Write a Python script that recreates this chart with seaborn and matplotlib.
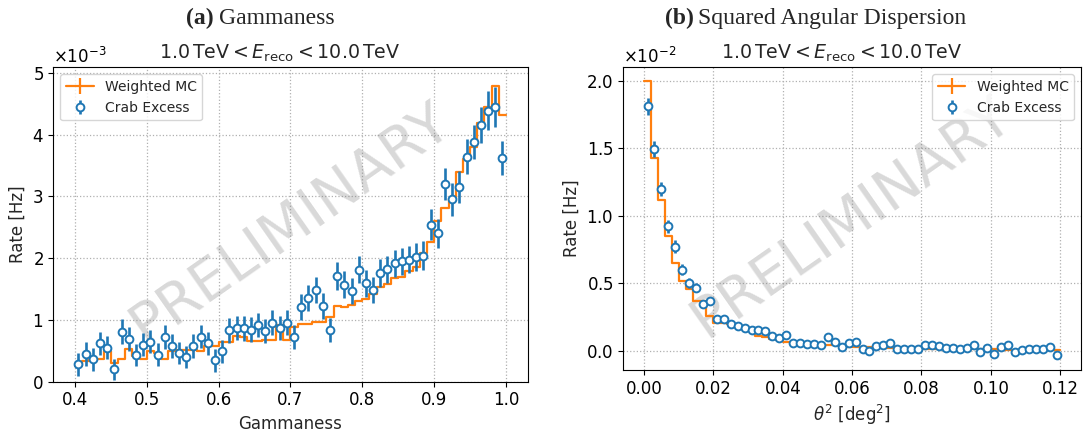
import numpy as np
import matplotlib
matplotlib.use("Agg")
import matplotlib.pyplot as plt
from matplotlib.lines import Line2D
from matplotlib.ticker import ScalarFormatter
import seaborn as sns

# --- dados ---
# (a) gammaness: 60 bins de 0.4 a 1.0, taxas em unidades de 1e-3 Hz
gh_edges = np.round(np.arange(0.40, 1.0001, 0.01), 3)
gh_mc = [0.25, 0.33, 0.35, 0.37, 0.50, 0.31, 0.37, 0.53, 0.42, 0.36,
         0.49, 0.46, 0.37, 0.50, 0.51, 0.52, 0.51, 0.50, 0.58, 0.57,
         0.64, 0.65, 0.74, 0.72, 0.66, 0.66, 0.67, 0.68, 0.91, 0.67,
         0.89, 0.93, 0.93, 0.97, 0.97, 1.05, 1.22, 1.21, 1.24, 1.30,
         1.34, 1.42, 1.53, 1.58, 1.68, 1.70, 1.80, 1.85, 2.09, 2.26,
         2.60, 2.82, 2.95, 3.40, 3.60, 3.80, 4.19, 4.44, 4.79, 4.32]
gh_crab = [0.28, 0.45, 0.36, 0.62, 0.55, 0.20, 0.81, 0.69, 0.43, 0.60,
           0.65, 0.44, 0.72, 0.58, 0.46, 0.40, 0.575, 0.73, 0.62, 0.345,
           0.49, 0.83, 0.87, 0.865, 0.84, 0.92, 0.82, 0.955, 0.87, 0.957,
           0.726, 1.21, 1.35, 1.49, 1.22, 0.84, 1.71, 1.57, 1.465, 1.81,
           1.595, 1.49, 1.76, 1.82, 1.92, 1.95, 1.975, 2.02, 2.04, 2.54,
           2.40, 3.195, 2.95, 3.155, 3.645, 3.88, 4.155, 4.39, 4.45, 3.62]
gh_crab_err = [0.18, 0.19, 0.18, 0.19, 0.19, 0.17, 0.20, 0.19, 0.18, 0.19,
               0.19, 0.18, 0.19, 0.19, 0.18, 0.18, 0.19, 0.19, 0.19, 0.18,
               0.18, 0.20, 0.20, 0.20, 0.20, 0.20, 0.19, 0.20, 0.20, 0.20,
               0.19, 0.21, 0.21, 0.21, 0.21, 0.19, 0.22, 0.22, 0.21, 0.22,
               0.22, 0.21, 0.22, 0.22, 0.22, 0.22, 0.22, 0.23, 0.23, 0.25,
               0.24, 0.26, 0.26, 0.26, 0.28, 0.28, 0.29, 0.31, 0.32, 0.28]

# (b) theta^2: 60 bins de 0 a 0.12 deg^2, taxas em unidades de 1e-2 Hz
th_edges = np.round(np.arange(0.0, 0.12001, 0.002), 4)
th_mc = [2.00, 1.43, 1.12, 0.85, 0.653, 0.52, 0.455, 0.365, 0.365, 0.257,
         0.208, 0.203, 0.198, 0.183, 0.166, 0.154, 0.109, 0.099, 0.084, 0.079,
         0.066, 0.065, 0.056, 0.053, 0.050, 0.048, 0.042, 0.040, 0.036, 0.030,
         0.026, 0.025, 0.024, 0.023, 0.022, 0.020, 0.018, 0.017, 0.016, 0.016,
         0.015, 0.015, 0.014, 0.013, 0.013, 0.012, 0.011, 0.010, 0.010, 0.009,
         0.009, 0.008, 0.008, 0.008, 0.007, 0.007, 0.006, 0.006, 0.006, 0.005]
th_crab = [1.81, 1.495, 1.198, 0.921, 0.772, 0.60, 0.505, 0.468, 0.346, 0.368,
           0.232, 0.235, 0.195, 0.183, 0.171, 0.153, 0.153, 0.146, 0.106, 0.097,
           0.118, 0.059, 0.059, 0.052, 0.047, 0.045, 0.101, 0.062, 0.025, 0.057,
           0.064, 0.010, 0.000, 0.032, 0.040, 0.054, 0.015, 0.015, 0.012, 0.015,
           0.040, 0.040, 0.032, 0.017, 0.017, 0.012, 0.017, 0.040, -0.010, 0.020,
           -0.027, 0.025, 0.042, -0.010, 0.007, 0.012, 0.012, 0.015, 0.027, -0.030]
th_crab_err = [0.062, 0.058, 0.052, 0.047, 0.045, 0.040, 0.037, 0.035, 0.033, 0.032,
               0.028, 0.028, 0.027, 0.026, 0.025, 0.025, 0.024, 0.024, 0.023, 0.023,
               0.022, 0.022, 0.021, 0.021, 0.021, 0.021, 0.020, 0.020, 0.020, 0.020,
               0.020, 0.020, 0.019, 0.019, 0.019, 0.019, 0.019, 0.019, 0.019, 0.019,
               0.018, 0.018, 0.018, 0.018, 0.018, 0.018, 0.018, 0.018, 0.018, 0.018,
               0.018, 0.018, 0.018, 0.018, 0.018, 0.018, 0.018, 0.018, 0.018, 0.018]

TITLE = r"$1.0\,\mathrm{TeV} < E_\mathrm{reco} < 10.0\,\mathrm{TeV}$"
ORANGE = "#ff7f0e"
BLUE = "#1f77b4"

sns.set_theme(style="ticks")
plt.rcParams["font.family"] = ["DejaVu Sans"]
plt.rcParams["mathtext.fontset"] = "dejavusans"
plt.rcParams["axes.edgecolor"] = "black"
plt.rcParams["axes.linewidth"] = 0.8
for eixo in ("xtick", "ytick"):
    plt.rcParams[f"{eixo}.color"] = "black"
    plt.rcParams[f"{eixo}.major.size"] = 3.5
    plt.rcParams[f"{eixo}.major.width"] = 0.8
    plt.rcParams[f"{eixo}.major.pad"] = 3.5


def painel(ax, edges, mc, crab, crab_err, scale):
    edges = np.asarray(edges)
    centers = 0.5 * (edges[1:] + edges[:-1])
    mc = np.asarray(mc) * scale
    y_step = np.append(mc, mc[-1])

    ax.grid(True, linestyle=":", color="#b0b0b0", linewidth=0.9, zorder=0)
    ax.text(0.5, 0.5, "PRELIMINARY", transform=ax.transAxes, rotation=35,
            fontsize=41, color="gray", alpha=0.3, ha="center", va="center",
            zorder=1)

    sns.lineplot(x=edges, y=y_step, drawstyle="steps-post", color=ORANGE,
                 linewidth=1.6, errorbar=None, ax=ax, zorder=3)
    ebar = ax.errorbar(centers, np.asarray(crab) * scale,
                       yerr=np.asarray(crab_err) * scale, fmt="o",
                       color=BLUE, mfc="white", mec=BLUE, ms=5.6, mew=1.4,
                       elinewidth=1.9, capsize=0, zorder=4)

    ax.set_title(TITLE, fontsize=13.7, x=0.478)
    ax.set_ylabel("Rate [Hz]", fontsize=12)
    ax.tick_params(labelsize=12)
    fmt = ScalarFormatter(useMathText=True)
    fmt.set_powerlimits((0, 0))
    ax.yaxis.set_major_formatter(fmt)
    ax.yaxis.get_offset_text().set_fontsize(12)

    mc_handle = Line2D([], [], color=ORANGE, lw=1.6, marker="|", ms=12,
                       mew=1.6)
    return mc_handle, ebar


fig = plt.figure(figsize=(10.86, 4.34), dpi=100)
ax1 = fig.add_axes([0.0491, 0.1205, 0.4367, 0.7244])
ax2 = fig.add_axes([0.5739, 0.1475, 0.4215, 0.6974])

h_mc, h_crab = painel(ax1, gh_edges, gh_mc, gh_crab, gh_crab_err, 1e-3)
ax1.set_xlim(0.37, 1.03)
ax1.set_ylim(0, 5.09e-3)
ax1.set_xticks([0.4, 0.5, 0.6, 0.7, 0.8, 0.9, 1.0])
ax1.set_yticks(np.arange(0, 5.5e-3, 1e-3))
ax1.set_xlabel("Gammaness", fontsize=12)
ax1.legend([h_mc, h_crab], ["Weighted MC", "Crab Excess"], loc="upper left",
           fontsize=10, frameon=True, framealpha=0.8, edgecolor="#cccccc",
           fancybox=True)

h_mc, h_crab = painel(ax2, th_edges, th_mc, th_crab, th_crab_err, 1e-2)
ax2.set_xlim(-0.006, 0.126)
ax2.set_ylim(-0.143e-2, 2.10e-2)
ax2.set_xticks([0.0, 0.02, 0.04, 0.06, 0.08, 0.10, 0.12])
ax2.set_xticklabels(["0.00", "0.02", "0.04", "0.06", "0.08", "0.10", "0.12"])
ax2.set_yticks([0.0, 0.5e-2, 1.0e-2, 1.5e-2, 2.0e-2])
ax2.set_xlabel(r"$\theta^2$ [deg$^2$]", fontsize=12)
ax2.legend([h_mc, h_crab], ["Weighted MC", "Crab Excess"], loc="upper right",
           fontsize=10, frameon=True, framealpha=0.8, edgecolor="#cccccc",
           fancybox=True)

# legendas das sub-figuras (estilo LaTeX)
serif = "Liberation Serif"
base_y = 1 - 24 / 434
fig.text(214 / 1086, base_y, "(a)", family=serif, fontsize=17,
         fontweight="bold", va="baseline", ha="right")
fig.text(219 / 1086, base_y, "Gammaness", family=serif, fontsize=17,
         va="baseline", ha="left")
fig.text(694 / 1086, base_y, "(b)", family=serif, fontsize=17,
         fontweight="bold", va="baseline", ha="right")
fig.text(698 / 1086, base_y, "Squared Angular Dispersion", family=serif,
         fontsize=17, va="baseline", ha="left")

fig.savefig("out.png", dpi=100)
